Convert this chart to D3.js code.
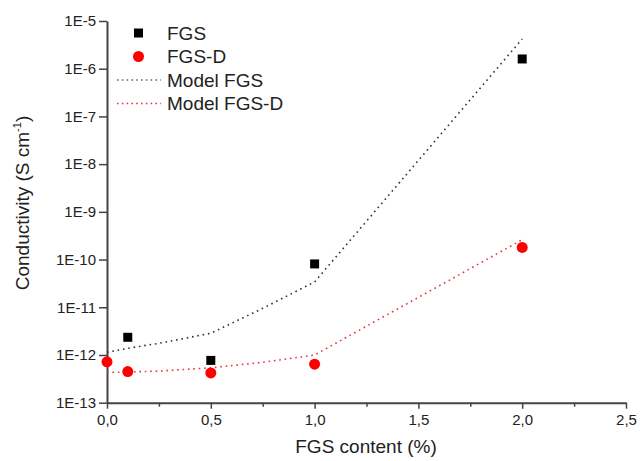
<!DOCTYPE html>
<html>
<head>
<meta charset="utf-8">
<script src="https://cdn.jsdelivr.net/npm/d3@7/dist/d3.min.js"></script>
<style>
	body { margin: 0; background: #fff; }
	svg text { font-family: "Liberation Sans", Arial, sans-serif; fill: #222; }
</style>
</head>
<body>
<div id="chart"></div>
<script>
// measured data (FGS content in %, conductivity in S/cm)
var contentFGS = [0.1, 0.5, 1.0, 2.0];
var condFGS = [2.35e-12, 7.7e-13, 8.1e-11, 1.6e-6];

var contentFGSD = [0, 0.1, 0.5, 1.0, 2.0];
var condFGSD = [7.2e-13, 4.5e-13, 4.2e-13, 6.4e-13, 1.8e-10];

// model curves
var modelX = [0, 0.1, 0.25, 0.5, 0.75, 1.0, 2.0];
var modelFGS = [1.14e-12, 1.38e-12, 1.76e-12, 2.85e-12, 9.5e-12, 3.4e-11, 4.2e-6];
var modelFGSD = [4.3e-13, 4.4e-13, 4.6e-13, 5.4e-13, 7.0e-13, 1.0e-12, 2.6e-10];

var xTicks = [0, 0.5, 1.0, 1.5, 2.0, 2.5];
var xMinor = [0.25, 0.75, 1.25, 1.75, 2.25];
var yTicks = [1e-13, 1e-12, 1e-11, 1e-10, 1e-9, 1e-8, 1e-7, 1e-6, 1e-5];

var legendItems = ["FGS", "FGS-D", "Model FGS", "Model FGS-D"];

var W = 641, H = 461;
var margin = {top: 21, right: 15, bottom: 58, left: 107};

var svg = d3.select("#chart").append("svg")
	.attr("width", W)
	.attr("height", H);

var g = svg.append("g").attr("transform", "translate(" + margin.left + "," + margin.top + ")");
var width = 626 - margin.left,
	height = 402.7 - margin.top;

var x = d3.scaleLinear().domain([0, 2.5]).range([0, width]);
var y = d3.scaleLog().domain([1e-13, 1e-5]).range([height, 0]);

var fmtX = function (d) { return d3.format(".1f")(d).replace(".", ","); };
var fmtY = function (d) { return "1E" + Math.round(Math.log10(d)); };

// minor x ticks
g.append("g")
	.attr("transform", "translate(0," + height + ")")
	.call(d3.axisBottom(x).tickValues(xMinor).tickSize(4).tickFormat(""))
	.call(function (a) { a.select(".domain").remove(); a.selectAll("line").attr("stroke", "#444").attr("stroke-width", 1.5); });

// bottom axis
var xAxis = g.append("g")
	.attr("transform", "translate(0," + height + ")")
	.call(d3.axisBottom(x).tickValues(xTicks).tickSize(6).tickSizeOuter(0).tickFormat(fmtX).tickPadding(6));
xAxis.select(".domain").attr("stroke", "#444").attr("stroke-width", 2);
xAxis.selectAll("line").attr("stroke", "#444").attr("stroke-width", 1.5);
xAxis.selectAll("text").attr("font-size", 15).attr("fill", "#333");

// left axis
var yAxis = g.append("g")
	.call(d3.axisLeft(y).tickValues(yTicks).tickSize(8).tickSizeOuter(0).tickFormat(fmtY).tickPadding(3));
yAxis.select(".domain").attr("stroke", "#444").attr("stroke-width", 2);
yAxis.selectAll("line").attr("stroke", "#444").attr("stroke-width", 1.5);
yAxis.selectAll("text").attr("font-size", 15).attr("fill", "#333");

// axis titles
svg.append("text")
	.attr("x", 366).attr("y", 453)
	.attr("text-anchor", "middle")
	.attr("font-size", 19)
	.text("FGS content (%)");

var yt = svg.append("text")
	.attr("transform", "translate(29,203) rotate(-90)")
	.attr("text-anchor", "middle")
	.attr("font-size", 19);
yt.append("tspan").text("Conductivity (S cm");
yt.append("tspan").attr("font-size", 11).attr("dy", -8).text("-1");
yt.append("tspan").attr("dy", 8).text(")");

// model lines
var line = d3.line()
	.x(function (d) { return x(d[0]); })
	.y(function (d) { return y(d[1]); });

g.append("path")
	.datum(d3.zip(modelX, modelFGS))
	.attr("fill", "none")
	.attr("stroke", "#333")
	.attr("stroke-width", 1.6)
	.attr("stroke-dasharray", "1.6,3.8")
	.attr("d", line);

g.append("path")
	.datum(d3.zip(modelX, modelFGSD))
	.attr("fill", "none")
	.attr("stroke", "#e8333a")
	.attr("stroke-width", 1.6)
	.attr("stroke-dasharray", "1.6,3.8")
	.attr("d", line);

// data points
g.selectAll(".sq")
	.data(d3.zip(contentFGS, condFGS))
	.enter().append("rect")
	.attr("x", function (d) { return x(d[0]) - 4.5; })
	.attr("y", function (d) { return y(d[1]) - 4.5; })
	.attr("width", 9)
	.attr("height", 9)
	.attr("fill", "#000");

g.selectAll(".dot")
	.data(d3.zip(contentFGSD, condFGSD))
	.enter().append("circle")
	.attr("cx", function (d) { return x(d[0]); })
	.attr("cy", function (d) { return y(d[1]); })
	.attr("r", 5.5)
	.attr("fill", "#f00");

// legend
var legend = svg.append("g").attr("transform", "translate(117,33)");
legendItems.forEach(function (name, i) {
	var row = legend.append("g").attr("transform", "translate(0," + (i * 23.5) + ")");
	if (i === 0) {
		row.append("rect").attr("x", 17).attr("y", -4.5).attr("width", 9).attr("height", 9).attr("fill", "#000");
	} else if (i === 1) {
		row.append("circle").attr("cx", 21.5).attr("cy", 0).attr("r", 5.5).attr("fill", "#f00");
	} else {
		row.append("line").attr("x1", 0).attr("x2", 44).attr("y1", 0).attr("y2", 0)
			.attr("stroke", i === 2 ? "#666" : "#e8333a")
			.attr("stroke-width", 1.4)
			.attr("stroke-dasharray", "1.6,3.2");
	}
	row.append("text")
		.attr("x", 50).attr("y", 0).attr("dy", "0.36em")
		.attr("font-size", 19)
		.text(name);
});
</script>
</body>
</html>
